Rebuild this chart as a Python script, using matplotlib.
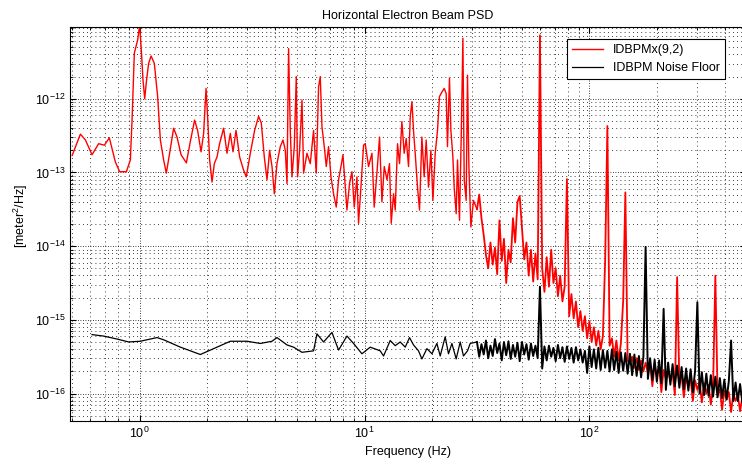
import numpy as np
import matplotlib
matplotlib.use("Agg")
import matplotlib.pyplot as plt
from matplotlib.ticker import LogLocator, NullFormatter

plt.rcParams['font.family'] = ['Liberation Sans', 'DejaVu Sans']
plt.rcParams['mathtext.fontset'] = 'custom'
plt.rcParams['mathtext.rm'] = 'Liberation Sans'
plt.rcParams['mathtext.it'] = 'Liberation Sans:italic'

# IDBPMx(9,2) spectrum below ~31 Hz: frequency (Hz) and log10 of PSD (m^2/Hz)
red_freq = [
    0.501, 0.545, 0.574, 0.614, 0.657, 0.697, 0.733, 0.780, 0.815, 0.873,
    0.909, 0.925, 0.947, 0.980, 1.000, 1.018, 1.035, 1.053, 1.071, 1.096,
    1.124, 1.162, 1.202, 1.236, 1.278, 1.314, 1.359, 1.416, 1.466, 1.528,
    1.613, 1.680, 1.755, 1.810, 1.875, 1.925, 1.973, 2.005, 2.047, 2.098,
    2.148, 2.208, 2.267, 2.362, 2.446, 2.530, 2.601, 2.682, 2.783, 2.899,
    2.980, 3.105, 3.244, 3.380, 3.475, 3.583, 3.684, 3.783, 3.877, 3.970,
    4.080, 4.220, 4.339, 4.443, 4.520, 4.595, 4.675, 4.757, 4.871, 4.971,
    5.038, 5.142, 5.271, 5.358, 5.546, 5.737, 5.934, 6.100, 6.246, 6.355,
    6.467, 6.621, 6.758, 6.918, 7.091, 7.282, 7.486, 7.664, 7.855, 8.017,
    8.208, 8.352, 8.577, 8.790, 9.000, 9.252, 9.404, 9.638, 9.899, 10.07,
    10.42, 10.79, 11.04, 11.35, 11.66, 11.95, 12.24, 12.58, 12.91, 13.14,
    13.46, 13.69, 14.02, 14.31, 14.66, 15.01, 15.32, 15.69, 15.97, 16.25,
    16.51, 16.80, 17.20, 17.56, 17.99, 18.42, 18.80, 19.25, 19.73, 20.14,
    20.62, 21.11, 21.54, 22.08, 22.61, 23.07, 23.38, 23.86, 24.21, 24.71,
    25.04, 25.56, 25.91, 26.44, 26.91, 27.38, 27.75, 28.31, 28.70, 29.11,
    29.71, 30.51,
]
red_log = [
    -12.77, -12.48, -12.56, -12.76, -12.61, -12.63, -12.53, -12.86, -12.99, -12.99,
    -12.83, -12.29, -11.38, -11.20, -11.00, -11.36, -11.75, -12.00, -11.77, -11.52,
    -11.42, -11.52, -11.97, -12.56, -12.83, -13.01, -12.74, -12.40, -12.52, -12.76,
    -12.87, -12.58, -12.29, -12.43, -12.72, -12.47, -11.86, -12.24, -12.83, -13.13,
    -12.88, -12.79, -12.61, -12.40, -12.74, -12.47, -12.72, -12.43, -12.79, -12.97,
    -13.06, -12.74, -12.43, -12.24, -12.33, -12.79, -13.10, -12.70, -12.92, -13.29,
    -12.88, -12.65, -12.56, -12.70, -13.15, -11.32, -12.43, -13.06, -12.65, -11.70,
    -13.06, -12.70, -12.02, -13.01, -12.74, -12.88, -12.43, -13.01, -11.84, -11.70,
    -12.38, -12.65, -12.92, -12.65, -13.06, -13.29, -13.47, -13.10, -12.92, -12.76,
    -13.20, -13.51, -13.15, -12.99, -13.47, -13.06, -13.69, -13.20, -12.63, -12.61,
    -12.92, -12.74, -13.47, -13.01, -12.52, -13.40, -12.92, -13.10, -12.88, -13.69,
    -13.29, -13.51, -12.61, -12.88, -12.31, -12.74, -12.54, -12.92, -12.24, -12.04,
    -12.43, -12.74, -13.20, -13.51, -12.52, -13.06, -12.56, -13.20, -12.70, -13.38,
    -12.74, -12.43, -11.97, -11.91, -11.86, -11.93, -12.65, -11.72, -12.43, -12.79,
    -13.20, -13.56, -12.83, -13.65, -12.52, -11.18, -13.10, -13.38, -11.68, -12.92,
    -13.74, -13.38,
]

# dense part of the spectra, 31.6 Hz .. 501 Hz (shared frequency bins)
hf_freq = [
    31.62, 32.36, 33.11, 33.88, 34.67, 35.48, 36.31, 37.15, 38.02, 38.90,
    39.81, 40.74, 41.69, 42.66, 43.65, 44.67, 45.71, 46.77, 47.86, 48.98,
    50.12, 51.29, 52.48, 53.70, 54.95, 56.23, 57.54, 58.88, 60.26, 61.66,
    63.10, 64.57, 66.07, 67.61, 69.18, 70.79, 72.44, 74.13, 75.86, 77.62,
    79.43, 81.28, 83.18, 85.11, 87.10, 89.13, 91.20, 93.33, 95.50, 97.72,
    100.0, 102.3, 104.7, 107.2, 109.6, 112.2, 114.8, 117.5, 120.2, 123.0,
    125.9, 128.8, 131.8, 134.9, 138.0, 141.3, 144.5, 147.9, 151.4, 154.9,
    158.5, 162.2, 166.0, 169.8, 173.8, 177.8, 182.0, 186.2, 190.5, 195.0,
    199.5, 204.2, 208.9, 213.8, 218.8, 223.9, 229.1, 234.4, 239.9, 245.5,
    251.2, 257.0, 263.0, 269.2, 275.4, 281.8, 288.4, 295.1, 302.0, 309.0,
    316.2, 323.6, 331.1, 338.8, 346.7, 354.8, 363.1, 371.5, 380.2, 389.0,
    398.1, 407.4, 416.9, 426.6, 436.5, 446.7, 457.1, 467.7, 478.6, 489.8,
    501.2,
]
red_log_hf = [
    -13.50, -13.30, -13.62, -13.85, -14.12, -14.30, -13.95, -14.25, -14.02, -14.38,
    -13.65, -14.20, -13.90, -14.50, -14.05, -14.22, -13.62, -13.95, -13.40, -13.32,
    -13.75, -14.18, -13.95, -14.40, -14.05, -14.48, -14.10, -14.45, -11.14, -14.30,
    -14.62, -14.15, -14.55, -14.05, -14.50, -14.30, -14.68, -14.40, -14.75, -14.55,
    -13.09, -14.95, -14.65, -14.98, -14.75, -15.10, -14.88, -15.15, -14.95, -15.25,
    -15.02, -15.30, -15.10, -15.35, -15.15, -15.40, -15.22, -14.19, -12.37, -15.35,
    -15.25, -15.50, -15.28, -15.55, -15.32, -14.74, -13.27, -15.55, -15.60, -15.50,
    -15.65, -15.52, -15.68, -15.55, -15.70, -15.58, -15.72, -15.60, -15.90, -15.62,
    -15.75, -15.64, -15.98, -15.68, -15.80, -15.70, -15.82, -15.72, -16.02, -14.42,
    -15.85, -15.76, -16.05, -15.78, -15.90, -15.80, -16.10, -15.82, -15.95, -15.84,
    -16.12, -15.86, -16.00, -15.88, -16.15, -15.90, -14.40, -16.02, -15.94, -16.22,
    -15.96, -16.08, -15.98, -16.25, -16.00, -16.10, -16.02, -16.24, -16.04, -16.15,
    -16.08,
]

# IDBPM noise floor below ~30 Hz
noise_freq = [
    0.614, 0.692, 0.793, 0.894, 1.007, 1.195, 1.278, 1.517, 1.861, 2.062,
    2.530, 3.001, 3.440, 3.877, 4.080, 4.520, 4.835, 5.271, 5.934, 6.144,
    6.573, 7.163, 7.664, 8.352, 8.937, 9.737, 10.60, 11.74, 12.15, 13.01,
    13.69, 14.41, 15.17, 15.85, 16.51, 17.38, 17.99, 18.94, 19.94, 20.98,
    21.70, 22.84, 23.62, 24.46, 25.56, 26.63, 27.54, 28.70, 29.50,
]
noise_log = [
    -15.20, -15.22, -15.26, -15.30, -15.29, -15.24, -15.27, -15.37, -15.47, -15.41,
    -15.29, -15.29, -15.32, -15.29, -15.24, -15.34, -15.37, -15.44, -15.42, -15.19,
    -15.30, -15.17, -15.41, -15.22, -15.32, -15.46, -15.37, -15.42, -15.49, -15.28,
    -15.35, -15.30, -15.37, -15.24, -15.34, -15.42, -15.53, -15.39, -15.46, -15.32,
    -15.49, -15.23, -15.46, -15.32, -15.53, -15.30, -15.49, -15.42, -15.32,
]
noise_log_hf = [
    -15.30, -15.50, -15.33, -15.47, -15.28, -15.52, -15.35, -15.49, -15.26, -15.45,
    -15.32, -15.55, -15.30, -15.48, -15.29, -15.53, -15.34, -15.50, -15.31, -15.56,
    -15.30, -15.47, -15.33, -15.54, -15.32, -15.49, -15.35, -15.52, -14.55, -15.66,
    -15.36, -15.55, -15.35, -15.50, -15.38, -15.56, -15.34, -15.52, -15.37, -15.57,
    -15.36, -15.53, -15.38, -15.58, -15.37, -15.55, -15.40, -15.58, -15.42, -15.72,
    -15.36, -15.64, -15.40, -15.66, -15.38, -15.68, -15.41, -15.65, -15.42, -15.70,
    -15.40, -15.68, -15.43, -15.72, -15.44, -15.69, -15.45, -15.73, -15.46, -15.75,
    -15.47, -15.76, -15.49, -15.78, -15.50, -14.01, -15.80, -15.52, -15.82, -15.54,
    -15.84, -15.55, -15.86, -14.85, -15.95, -15.58, -15.88, -15.60, -15.90, -15.62,
    -15.92, -15.64, -15.94, -15.66, -15.96, -15.67, -15.98, -15.69, -14.76, -16.00,
    -15.71, -16.02, -15.73, -16.03, -15.75, -16.04, -15.77, -16.05, -15.79, -16.06,
    -15.81, -16.08, -15.83, -15.28, -16.10, -15.85, -16.10, -15.87, -16.12, -15.89,
    -16.12,
]

red_f = red_freq + hf_freq
red_psd = 10.0 ** np.array(red_log + red_log_hf)
noise_f = noise_freq + hf_freq
noise_psd = 10.0 ** np.array(noise_log + noise_log_hf)

fig = plt.figure(figsize=(7.42, 4.66), dpi=100)
ax = fig.add_axes([70 / 742, 45.4 / 466, 676 / 742, 393.6 / 466])

# the noisy high-frequency part is drawn a bit heavier so it reads as a band
n_red = len(red_freq)
n_noise = len(noise_freq)
ax.loglog(red_f[:n_red + 1], red_psd[:n_red + 1], color='red', lw=1.0, label='IDBPMx(9,2)')
ax.loglog(red_f[n_red:], red_psd[n_red:], color='red', lw=1.3)
ax.loglog(noise_f[:n_noise + 1], noise_psd[:n_noise + 1], color='black', lw=0.9,
          label='IDBPM Noise Floor')
ax.loglog(noise_f[n_noise:], noise_psd[n_noise:], color='black', lw=1.4)

ax.set_xlim(0.49, 497)
ax.set_ylim(4.3e-17, 9.4e-12)

# MATLAB-like dotted grid
ax.grid(True, which='major', color='black', linestyle=(0, (1, 2)), lw=0.6)
ax.grid(True, which='minor', color='black', linestyle=(0, (1, 4)), lw=0.6)
ax.set_yticks([1e-16, 1e-15, 1e-14, 1e-13, 1e-12])
ax.set_xticks([1, 10, 100])
ax.yaxis.set_minor_locator(LogLocator(base=10, subs=np.arange(2, 10), numticks=20))
ax.xaxis.set_minor_locator(LogLocator(base=10, subs=np.arange(2, 10), numticks=20))
ax.xaxis.set_minor_formatter(NullFormatter())
ax.yaxis.set_minor_formatter(NullFormatter())
ax.tick_params(which='both', direction='in', top=True, right=True, labelsize=9)
ax.tick_params(which='minor', length=2, labelleft=False, labelbottom=False)
ax.tick_params(which='major', length=4)

ax.set_title('Horizontal Electron Beam PSD', fontsize=9, pad=6)
ax.set_xlabel('Frequency (Hz)', fontsize=9)
ax.set_ylabel('[meter$^2$/Hz]', fontsize=9)
ax.yaxis.set_label_coords(-0.059, 0.52)

leg = ax.legend(loc='upper right', bbox_to_anchor=(725 / 742, 1 - 39 / 466),
                bbox_transform=fig.transFigure, borderaxespad=0, fontsize=9,
                fancybox=False, framealpha=1, edgecolor='black', handlelength=2.5)
leg.get_frame().set_linewidth(0.8)

fig.savefig('out.png', dpi=100)
